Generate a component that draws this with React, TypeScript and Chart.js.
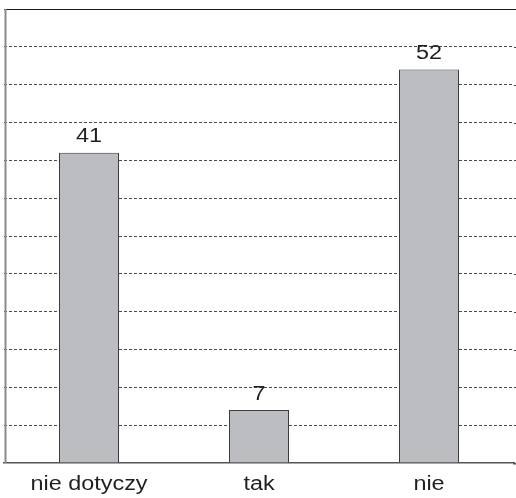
import React, { useEffect, useRef } from "react";
import { Chart, registerables } from "chart.js";

Chart.register(...registerables);

const categories = ["nie dotyczy", "tak", "nie"];
const values = [41, 7, 52];
const yMax = 60;
const yStep = 5;

const FONT = "'Liberation Sans', Arial, Helvetica, sans-serif";
const TEXT_COLOR = "#231f20";
const STRETCH = 1.2;

function stretchedText(ctx: any, text: string, x: number, y: number) {
  ctx.save();
  ctx.translate(x, y);
  ctx.scale(STRETCH, 1);
  ctx.fillText(text, 0, 0);
  ctx.restore();
}

const labelsPlugin = {
  id: "labelsPlugin",
  afterDatasetsDraw(chart: any) {
    const { ctx } = chart;
    const meta = chart.getDatasetMeta(0);
    const xScale = chart.scales.x;
    ctx.save();
    ctx.font = `19.5px ${FONT}`;
    ctx.fillStyle = TEXT_COLOR;
    ctx.textAlign = "center";
    ctx.textBaseline = "alphabetic";
    meta.data.forEach((bar: any, i: number) => {
      stretchedText(ctx, String(values[i]), bar.x, bar.y - 10.5);
    });
    categories.forEach((c, i) => {
      stretchedText(ctx, c, xScale.getPixelForValue(i), xScale.top + 27);
    });
    ctx.restore();
  },
};

const framePlugin = {
  id: "framePlugin",
  afterDraw(chart: any) {
    const { ctx, chartArea, width } = chart;
    const yScale = chart.scales.y;
    ctx.save();
    // extend grid lines to the right edge
    for (let v = yStep; v < yMax; v += yStep) {
      const y = Math.round(yScale.getPixelForValue(v)) + 0.5;
      ctx.strokeStyle = "#4a4a4a";
      ctx.lineWidth = 1;
      ctx.setLineDash([3, 2]);
      ctx.beginPath();
      ctx.moveTo(chartArea.right, y);
      ctx.lineTo(width, y);
      ctx.stroke();
    }
    ctx.setLineDash([]);
    const yTop = Math.round(yScale.getPixelForValue(yMax)) + 0.5;
    ctx.strokeStyle = "#1a1a1a";
    ctx.beginPath();
    ctx.moveTo(chartArea.right, yTop);
    ctx.lineTo(width, yTop);
    ctx.stroke();
    ctx.strokeStyle = "#555555";
    ctx.lineWidth = 1.5;
    ctx.beginPath();
    ctx.moveTo(chartArea.right - 1, chartArea.bottom + 0.75);
    ctx.lineTo(width, chartArea.bottom + 0.75);
    ctx.stroke();
    // left frame line
    ctx.strokeStyle = "#8a8a8a";
    ctx.lineWidth = 2;
    ctx.beginPath();
    ctx.moveTo(chartArea.left + 1.5, chartArea.top);
    ctx.lineTo(chartArea.left + 1.5, chartArea.bottom);
    ctx.stroke();
    ctx.restore();
  },
};

export default function App() {
  const ref = useRef<HTMLCanvasElement>(null);
  useEffect(() => {
    if (!ref.current) return;
    const chart = new Chart(ref.current, {
      type: "bar",
      data: {
        labels: categories,
        datasets: [
          {
            data: values,
            backgroundColor: "#bcbdc0",
            borderColor: "#3c3c3c",
            borderWidth: 1,
            barPercentage: 60 / 170,
            categoryPercentage: 1,
          },
        ],
      },
      options: {
        responsive: false,
        animation: false,
        layout: { padding: { left: 4, top: 9, right: 2, bottom: 0 } },
        plugins: {
          legend: { display: false },
          tooltip: { enabled: false },
          title: { display: false },
        },
        scales: {
          x: {
            grid: { display: false, drawTicks: false },
            border: { display: true, color: "#555555", width: 1.5 },
            ticks: { display: false },
            afterFit: (s: any) => {
              s.height = 35;
            },
          },
          y: {
            min: 0,
            max: yMax,
            ticks: { display: false, stepSize: yStep },
            grid: {
              drawTicks: false,
              tickLength: 0,
              lineWidth: 1,
              color: (c: any) =>
                c.tick && c.tick.value === yMax
                  ? "#1a1a1a"
                  : c.tick && c.tick.value === 0
                  ? "rgba(0,0,0,0)"
                  : "#4a4a4a",
            },
            border: {
              display: false,
              dash: (c: any) =>
                c.tick && c.tick.value === yMax ? [] : [3, 2],
            },
            afterFit: (s: any) => {
              s.width = 0;
            },
          },
        },
      },
      plugins: [labelsPlugin, framePlugin],
    });
    return () => chart.destroy();
  }, []);
  return (
    <div style={{ position: "absolute", left: 0, top: 0, width: 516, height: 498 }}>
      <canvas ref={ref} width={516} height={498} />
    </div>
  );
}
